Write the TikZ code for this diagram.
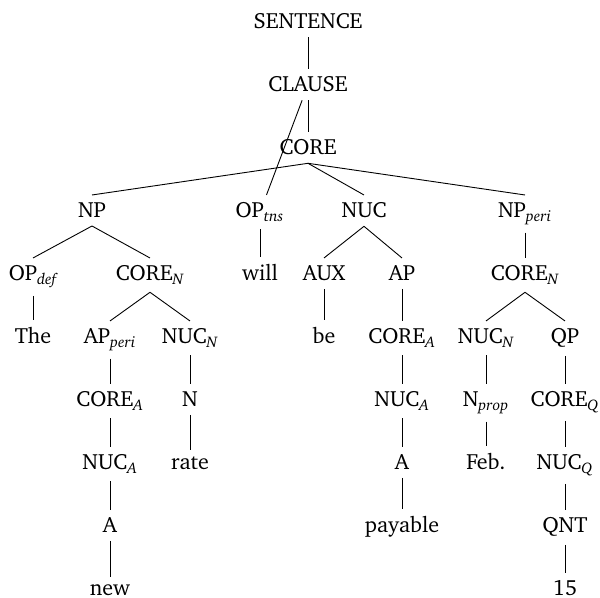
\documentclass[tikz,border=0pt]{standalone}
\usepackage[T1]{fontenc}
\usepackage{charter}
\newcommand\sbs[1]{\textsubscript{\itshape #1}}
\tikzset{
  tn/.style={anchor=base, inner xsep=1pt, inner ysep=3.8pt, font=\fontsize{11}{13}\selectfont},
  br/.style={draw=black, line width=0.45pt},
}
\begin{document}
\begin{tikzpicture}[x=0.5pt,y=-0.5pt]
\useasboundingbox (0,0) rectangle (600,598);
% baselines of the ten rows
\def\ra{29}\def\rb{92}\def\rc{155}\def\rd{218}\def\re{281}
\def\rf{344}\def\rg{407}\def\rh{470}\def\ri{533}\def\rj{596}
% nodes
\node[tn] (sentence) at (308,\ra) {SENTENCE};
\node[tn] (clause) at (308,\rb) {CLAUSE};
\node[tn] (core) at (308,\rc) {CORE};
\node[tn] (np) at (92,\rd) {NP};
\node[tn] (optns) at (260,\rd) {OP\sbs{tns}};
\node[tn] (nuc) at (364,\rd) {NUC};
\node[tn] (npperi) at (525,\rd) {NP\sbs{peri}};
\node[tn] (opdef) at (33,\re) {OP\sbs{def}};
\node[tn] (coren) at (150,\re) {CORE\sbs{N}};
\node[tn] (will) at (260,\re) {will};
\node[tn] (aux) at (324,\re) {AUX};
\node[tn] (ap) at (402,\re) {AP};
\node[tn] (corenb) at (525,\re) {CORE\sbs{N}};
\node[tn] (the) at (33,\rf) {The};
\node[tn] (apperi) at (110,\rf) {AP\sbs{peri}};
\node[tn] (nucn) at (190,\rf) {NUC\sbs{N}};
\node[tn] (be) at (324,\rf) {be};
\node[tn] (coreab) at (402,\rf) {CORE\sbs{A}};
\node[tn] (nucnb) at (486,\rf) {NUC\sbs{N}};
\node[tn] (qp) at (565,\rf) {QP};
\node[tn] (corea) at (110,\rg) {CORE\sbs{A}};
\node[tn] (n) at (190,\rg) {N};
\node[tn] (nucab) at (402,\rg) {NUC\sbs{A}};
\node[tn] (nprop) at (486,\rg) {N\sbs{prop}};
\node[tn] (coreq) at (565,\rg) {CORE\sbs{Q}};
\node[tn] (nuca) at (110,\rh) {NUC\sbs{A}};
\node[tn] (rate) at (190,\rh) {rate};
\node[tn] (ab) at (402,\rh) {A};
\node[tn] (feb) at (486,\rh) {Feb.};
\node[tn] (nucq) at (565,\rh) {NUC\sbs{Q}};
\node[tn] (a) at (110,\ri) {A};
\node[tn] (payable) at (402,\ri) {payable};
\node[tn] (qnt) at (565,\ri) {QNT};
\node[tn] (new) at (110,\rj) {new};
\node[tn] (fifteen) at (565,\rj) {15};
% branches
\foreach \p/\c in {sentence/clause, clause/core, core/np, core/nuc, core/npperi,
  np/opdef, np/coren, optns/will, nuc/aux, nuc/ap, npperi/corenb,
  opdef/the, coren/apperi, coren/nucn, aux/be, ap/coreab, corenb/nucnb, corenb/qp,
  apperi/corea, nucn/n, coreab/nucab, nucnb/nprop, qp/coreq,
  corea/nuca, n/rate, nucab/ab, nprop/feb, coreq/nucq,
  nuca/a, ab/payable, nucq/qnt, a/new, qnt/fifteen}
  \draw[br] (\p.south) -- (\c.north);
% the tense operator hangs from the clause
\draw[br] (clause) -- (optns);
\end{tikzpicture}
\end{document}
